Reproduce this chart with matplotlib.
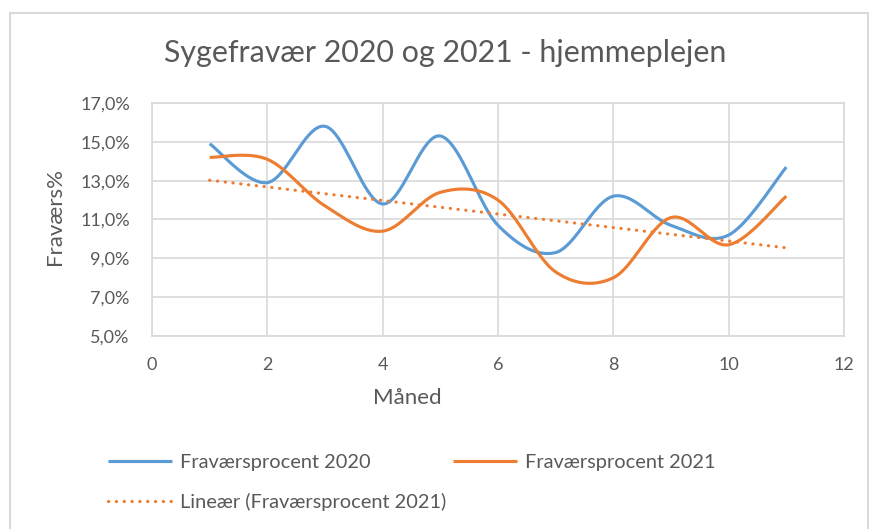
import numpy as np
import matplotlib.pyplot as plt
from matplotlib.patches import Rectangle

maaned = [1, 2, 3, 4, 5, 6, 7, 8, 9, 10, 11]
fravaer_2020 = [14.9, 12.9, 15.8, 11.8, 15.3, 10.7, 9.3, 12.2, 10.7, 10.2, 13.7]
fravaer_2021 = [14.2, 14.1, 11.7, 10.4, 12.4, 12.0, 8.3, 8.0, 11.1, 9.7, 12.2]

BLUE = "#5B9BD5"
ORANGE = "#ED7D31"
GREY = "#595959"
GRID = "#d9d9d9"


def smooth(x, y, n=40):
    # Excel-like smoothed line: cubic Bezier segments, Catmull-Rom tangents
    p = np.column_stack([x, y]).astype(float)
    pts = np.vstack([p[0], p, p[-1]])
    t = np.linspace(0, 1, n)[:, None]
    out = []
    for i in range(len(p) - 1):
        p0, p1 = pts[i + 1], pts[i + 2]
        c1 = p0 + (pts[i + 2] - pts[i]) / 6
        c2 = p1 - (pts[i + 3] - pts[i + 1]) / 6
        seg = ((1 - t) ** 3) * p0 + 3 * ((1 - t) ** 2) * t * c1 + 3 * (1 - t) * t ** 2 * c2 + t ** 3 * p1
        out.append(seg if i == 0 else seg[1:])
    s = np.vstack(out)
    return s[:, 0], s[:, 1]


plt.rcParams['font.family'] = ['Lato', 'DejaVu Sans']

fig = plt.figure(figsize=(8.69, 5.29), dpi=100)
fig.patches.append(Rectangle((10 / 869, -0.05), 858 / 869, 1.05 - 13 / 529,
                             transform=fig.transFigure, fill=False,
                             edgecolor=GRID, linewidth=1.5))

ax = fig.add_axes([152 / 869, 1 - 336 / 529, 692 / 869, 233 / 529])

x1, y1 = smooth(maaned, fravaer_2020)
x2, y2 = smooth(maaned, fravaer_2021)
l20, = ax.plot(x1, y1, color=BLUE, lw=2.25, solid_capstyle='butt', label="Fraværsprocent 2020")
l21, = ax.plot(x2, y2, color=ORANGE, lw=2.25, solid_capstyle='butt', label="Fraværsprocent 2021")

k, m = np.polyfit(maaned, fravaer_2021, 1)
xt = np.array([maaned[0], maaned[-1]])
lt, = ax.plot(xt, k * xt + m, color=ORANGE, lw=2.25, linestyle=(0, (0.1, 2.4)),
              dash_capstyle='round', label="Lineær (Fraværsprocent 2021)")

ax.set_xlim(0, 12)
ax.set_ylim(5, 17)
ax.set_xticks(range(0, 13, 2))
ax.set_yticks(range(5, 18, 2))
ax.set_yticklabels([f"{v},0%" for v in range(5, 18, 2)])
ax.grid(True, color=GRID, lw=1.2)
ax.set_axisbelow(True)
for s in ax.spines.values():
    s.set_color(GRID)
    s.set_linewidth(1.2)
ax.tick_params(length=0, colors=GREY, labelsize=13)
ax.tick_params(axis='x', pad=15)
ax.tick_params(axis='y', pad=16)

fig.text(407 / 869, 1 - 398 / 529, "Måned", ha='center', va='center', color=GREY, fontsize=16)
fig.text(55 / 869, 1 - 217 / 529, "Fraværs%", ha='center', va='center', rotation=90,
         color=GREY, fontsize=16)
fig.text(445 / 869, 1 - 53 / 529, "Sygefravær 2020 og 2021 - hjemmeplejen",
         ha='center', va='center', color=GREY, fontsize=21.9)

fig.legend([l20, lt, l21], [l20.get_label(), lt.get_label(), l21.get_label()],
           loc='upper left', bbox_to_anchor=(108 / 869, 1 - 454 / 529), ncol=2,
           frameon=False, fontsize=14.4, labelcolor=GREY, handlelength=3.2,
           handletextpad=0.4, columnspacing=0.35, labelspacing=1.1, borderpad=0,
           borderaxespad=0)

fig.savefig("out.png", dpi=100, facecolor='white')
